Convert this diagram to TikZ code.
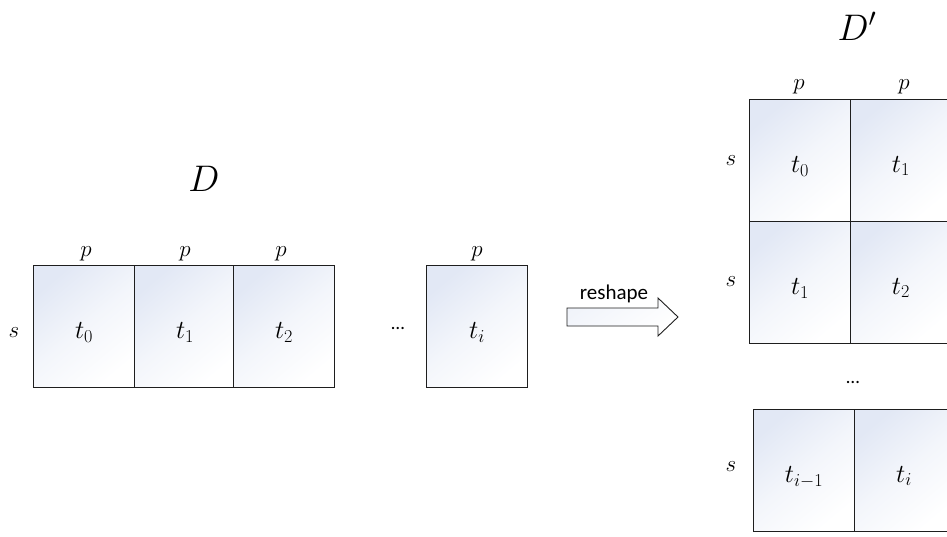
\RequirePackage{fix-cm}
\documentclass[tikz,border=0pt]{standalone}
\usepackage{fontspec}
\newfontfamily\calib{Carlito}
\definecolor{cellblue}{RGB}{226,232,245}
\definecolor{edge}{RGB}{30,30,30}
\tikzset{
  cell/.style={rectangle, draw=edge, line width=1.1pt, minimum width=101pt,
    minimum height=122pt, inner sep=0pt, anchor=north west,
    top color=cellblue, bottom color=white, middle color=white!60!cellblue, shading angle=40},
  tlbl/.style={inner sep=0pt, anchor=base, font=\fontsize{26}{30}\selectfont},
  plbl/.style={inner sep=0pt, anchor=base, font=\fontsize{23}{27}\selectfont},
  dlbl/.style={inner sep=0pt, anchor=base, font=\fontsize{37}{42}\selectfont},
  dots/.style={inner sep=0pt, font=\calib\fontsize{19}{22}\selectfont},
  blockarrow/.style={draw=edge, line width=0.9pt, top color=cellblue!50, bottom color=white, shading angle=35}
}
\begin{document}
\begin{tikzpicture}[x=1pt,y=-1pt]
\useasboundingbox (0,0) rectangle (947,536);
\clip (0,0) rectangle (947,536);
% left row
\node[cell] (b0) at (33,265) {};
\node[cell] (b1) at (134,265) {};
\node[cell] (b2) at (233,265) {};
\node[cell] (bi) at (426,265) {};
\node[tlbl] (l0) at ([yshift=-12pt]b0.center) {$t_0$};
\node[tlbl] (l1) at ([yshift=-12pt]b1.center) {$t_1$};
\node[tlbl] (l2) at ([yshift=-12pt]b2.center) {$t_2$};
\node[tlbl] (li) at ([yshift=-12pt]bi.center) {$t_i$};
\node[plbl] (p0) at (86,256) {$p$};
\node[plbl] (p1) at (185,256) {$p$};
\node[plbl] (p2) at (281,256) {$p$};
\node[plbl] (pi) at (477,256) {$p$};
\node[plbl] (s0) at (14,337) {$s$};
\node[dots] (dl) at (398,328) {…};
\node[dlbl] (D) at (204,191) {$D$};
% reshape arrow
\draw[blockarrow] (567,308) -- (658,308) -- (658,298) -- (678,317) -- (658,336) -- (658,326) -- (567,326) -- cycle;
\node[inner sep=0pt, anchor=base, font=\calib\fontsize{21}{25}\selectfont] (rs) at (614,299) {reshape};
% right grid
\node[cell] (r00) at (749,99) {};
\node[cell] (r01) at (850,99) {};
\node[cell] (r10) at (749,221) {};
\node[cell] (r11) at (850,221) {};
\node[cell] (r20) at (753,409) {};
\node[cell] (r21) at (854,409) {};
\node[tlbl] (m00) at ([yshift=-12pt]r00.center) {$t_0$};
\node[tlbl] (m01) at (901,172) {$t_1$};
\node[tlbl] (m10) at ([yshift=-12pt]r10.center) {$t_1$};
\node[tlbl] (m11) at (901,294) {$t_2$};
\node[tlbl] (m20) at ([yshift=-12pt]r20.center) {$t_{i-1}$};
\node[tlbl] (m21) at (904,482) {$t_i$};
\node[plbl] (q0) at (799,89) {$p$};
\node[plbl] (q1) at (904,89) {$p$};
\node[plbl] (s1) at (731,165) {$s$};
\node[plbl] (s2) at (731,286) {$s$};
\node[plbl] (s3) at (731,471) {$s$};
\node[dots] (dr) at (853,382) {…};
\node[dlbl] (D2) at (857,40) {$D'$};
\end{tikzpicture}
\end{document}
